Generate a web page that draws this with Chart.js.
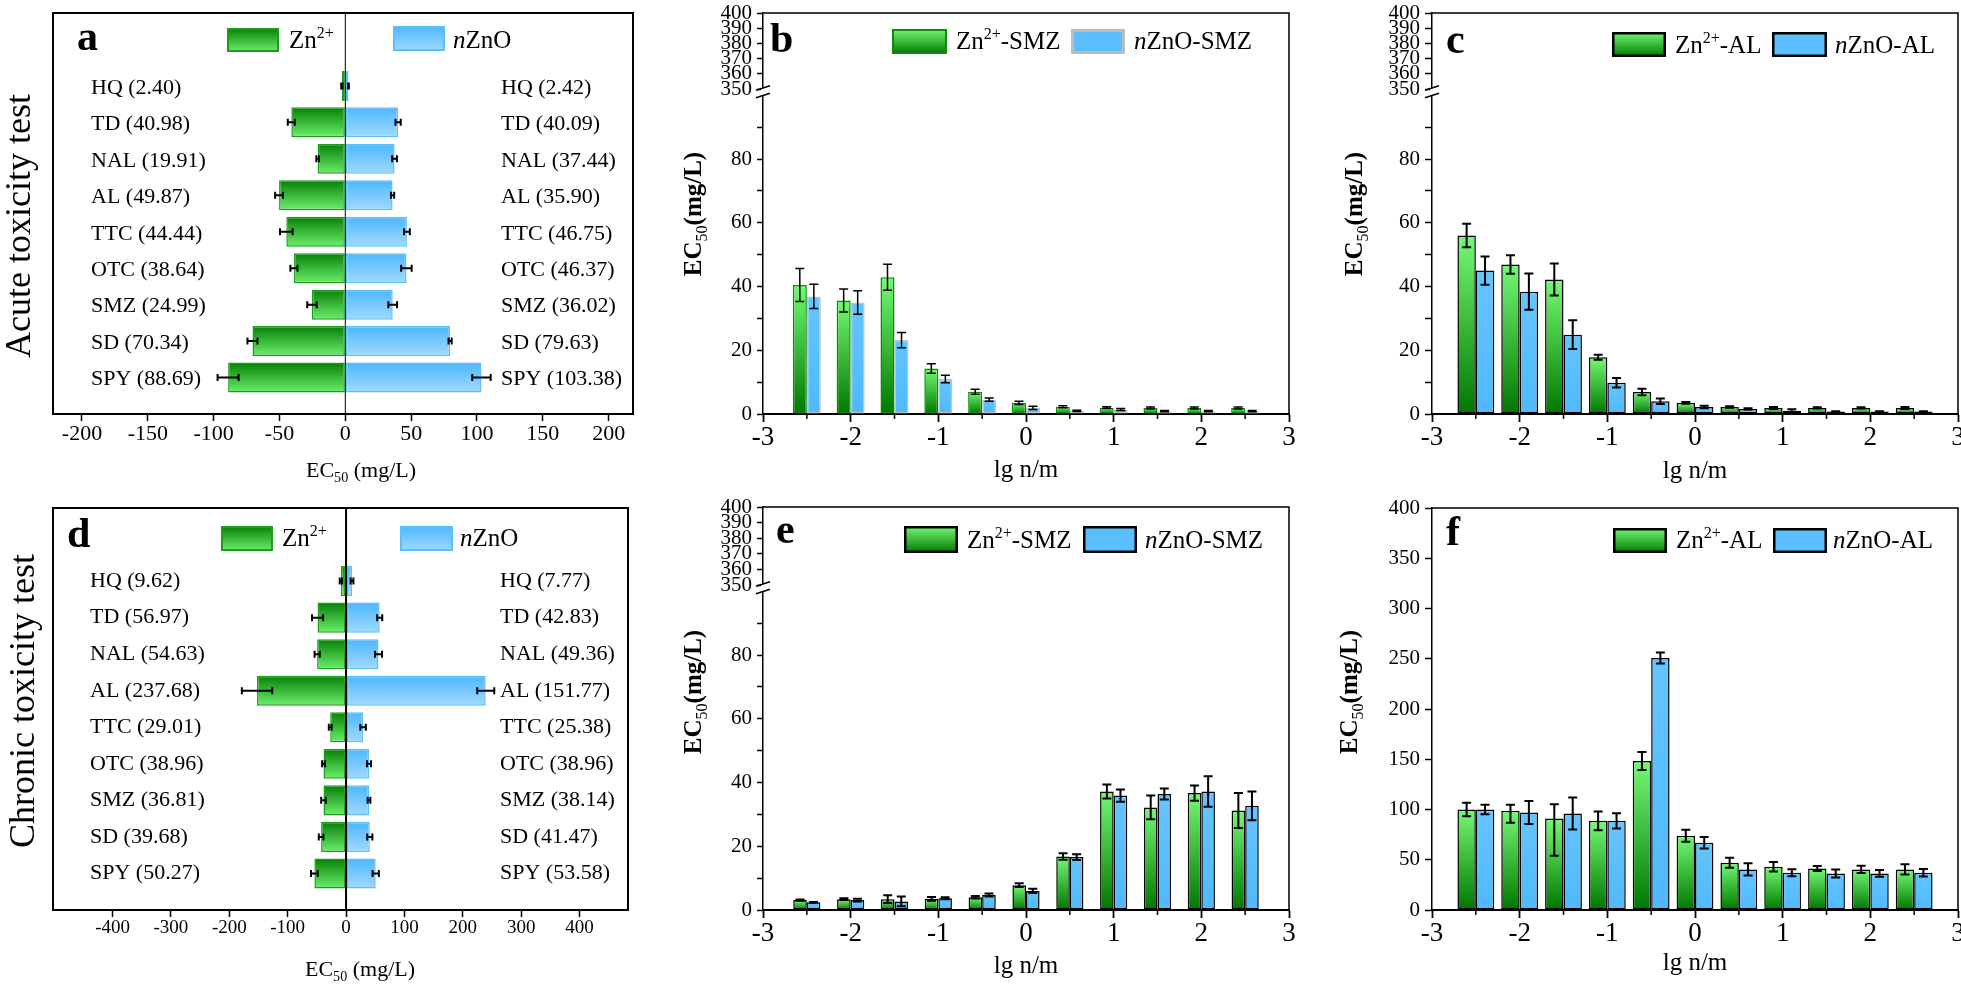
<!DOCTYPE html>
<html>
<head>
<meta charset="utf-8">
<title>EC50 of Zn2+ and nZnO with antibiotics</title>
<script src="https://cdn.jsdelivr.net/npm/chart.js@4.4.1/dist/chart.umd.min.js"></script>
<style>
html,body{margin:0;padding:0;background:#fff;}
#wrap{position:relative;width:1961px;height:987px;overflow:hidden;background:#fff;}
#wrap canvas{position:absolute;display:block;}
</style>
</head>
<body>
<div id="wrap">
  <canvas id="pa" width="650" height="490" style="left:0px;top:0px"></canvas>
  <canvas id="pb" width="650" height="490" style="left:650px;top:0px"></canvas>
  <canvas id="pc" width="661" height="490" style="left:1300px;top:0px"></canvas>
  <canvas id="pd" width="650" height="497" style="left:0px;top:490px"></canvas>
  <canvas id="pe" width="650" height="497" style="left:650px;top:490px"></canvas>
  <canvas id="pf" width="661" height="497" style="left:1300px;top:490px"></canvas>
</div>
<script>
// ---------------- DATA ----------------
const CATS = ['HQ','TD','NAL','AL','TTC','OTC','SMZ','SD','SPY'];

// panel a (acute): printed labels, bar lengths, error half-widths
const A_ZN_TXT = ['2.40','40.98','19.91','49.87','44.44','38.64','24.99','70.34','88.69'];
const A_NZ_TXT = ['2.42','40.09','37.44','35.90','46.75','46.37','36.02','79.63','103.38'];
const A_ZN = [2.6, 41.0, 21.0, 50.3, 44.8, 39.0, 25.3, 70.5, 89.0];
const A_ZN_ERR = [0.5, 2.7, 1.0, 3.0, 4.8, 2.7, 3.6, 3.8, 8.0];
const A_NZ = [2.4, 40.1, 37.4, 35.9, 46.8, 46.4, 36.0, 79.6, 103.4];
const A_NZ_ERR = [0.3, 2.0, 1.8, 1.2, 2.2, 4.0, 3.3, 1.2, 7.0];

// panel d (chronic)
const D_ZN_TXT = ['9.62','56.97','54.63','237.68','29.01','38.96','36.81','39.68','50.27'];
const D_NZ_TXT = ['7.77','42.83','49.36','151.77','25.38','38.96','38.14','41.47','53.58'];
const D_ZN = [8.8, 48.8, 49.5, 152.5, 27.1, 38.6, 38.6, 42.7, 54.2];
const D_ZN_ERR = [2.0, 9.5, 4.4, 26.0, 2.4, 2.4, 4.0, 4.0, 5.8];
const D_NZ = [10.2, 57.6, 55.6, 239.3, 29.2, 39.3, 39.3, 40.7, 50.8];
const D_NZ_ERR = [2.4, 4.4, 6.0, 14.6, 4.7, 3.4, 2.4, 4.4, 5.4];

// lg n/m positions for panels b, c, e, f
const LGNM = [-2.5, -2, -1.5, -1, -0.5, 0, 0.5, 1, 1.5, 2, 2.5];

// panel b (acute, SMZ)
const B_ZN = [40.5, 35.6, 42.9, 14.3, 7.0, 3.5, 2.3, 2.0, 1.9, 1.9, 1.9];
const B_ZN_ERR = [5.2, 3.6, 4.1, 1.5, 0.8, 0.5, 0.3, 0.3, 0.3, 0.3, 0.3];
const B_NZ = [36.9, 35.0, 23.2, 11.0, 4.5, 1.9, 1.0, 1.4, 0.9, 0.9, 0.9];
const B_NZ_ERR = [3.8, 3.7, 2.4, 1.2, 0.5, 0.5, 0.2, 0.3, 0.2, 0.2, 0.2];

// panel c (acute, AL)
const C_ZN = [56.0, 46.9, 42.2, 17.8, 6.9, 3.5, 2.2, 1.9, 1.9, 1.9, 1.9];
const C_ZN_ERR = [3.7, 2.9, 5.0, 0.8, 1.0, 0.3, 0.2, 0.3, 0.2, 0.2, 0.3];
const C_NZ = [45.0, 38.4, 24.9, 9.8, 4.0, 2.2, 1.6, 1.0, 0.8, 0.8, 0.8];
const C_NZ_ERR = [4.4, 5.7, 4.5, 1.5, 0.9, 0.4, 0.2, 0.5, 0.1, 0.1, 0.1];

// panel e (chronic, SMZ)
const E_ZN = [3.1, 3.4, 3.4, 3.5, 4.0, 7.8, 16.8, 37.2, 32.2, 36.7, 31.2];
const E_ZN_ERR = [0.2, 0.3, 1.2, 0.6, 0.4, 0.6, 1.0, 2.2, 3.7, 2.4, 5.5];
const E_NZ = [2.4, 3.1, 2.7, 3.7, 4.7, 6.0, 16.6, 35.9, 36.4, 37.2, 32.7];
const E_NZ_ERR = [0.1, 0.4, 1.5, 0.3, 0.5, 0.7, 0.9, 1.9, 1.7, 4.8, 4.5];

// panel f (chronic, AL)  ([minus, plus] where asymmetric)
const F_ZN = [100.0, 98.7, 91.1, 88.7, 148.3, 73.8, 47.0, 43.0, 41.4, 40.4, 40.4];
const F_ZN_ERR = [6.6, [12, 6], [37, 14], 9.3, 9.0, 6.0, 5.0, 4.8, 2.5, 3.6, 5.0];
const F_NZ = [100.0, 97.0, 96.0, 88.7, 250.7, 66.9, 40.4, 37.1, 36.4, 36.4, 37.1];
const F_NZ_ERR = [4.8, 11.5, 16.0, 7.5, 5.5, 5.8, 6.0, 3.5, 4.0, 3.3, 3.8];

// tick values
const A_XTICKS = [-200, -150, -100, -50, 0, 50, 100, 150, 200];
const D_XTICKS = [-400, -300, -200, -100, 0, 100, 200, 300, 400];
const LG_XTICKS = [-3, -2, -1, 0, 1, 2, 3];
const LG_XMINOR = [-2.5, -1.5, -0.5, 0.5, 1.5, 2.5];
const LOW_YTICKS = [0, 10, 20, 30, 40, 50, 60, 70, 80, 90];
const UP_YTICKS = [350, 360, 370, 380, 390, 400];
const F_YTICKS = [0, 50, 100, 150, 200, 250, 300, 350, 400];

// texts
const X_TITLE = 'lg n/m';
const EC_X = [['EC',''],['50','SUB'],[' (mg/L)','']];
const EC_Y = [['EC','B'],['50','SUB'],['(mg/L)','B']];
const LEG_ZN = [['Zn',''],['2+','SUP']];
const LEG_NZ = [['n','I'],['ZnO','']];

// ---------------- STYLE HELPERS ----------------
const FAM = '"Liberation Serif", "Times New Roman", Times, serif';
Chart.defaults.font.family = FAM;
Chart.defaults.color = '#000';

const GH_TOP = '#067f06', GH_BOT = '#6cf06c';   // horizontal green bars: dark top
const BH_TOP = '#4cb7fe', BH_BOT = '#a2dafe';   // horizontal blue bars
const GV_TOP = '#74fa74', GV_BOT = '#007700';   // vertical green bars: light top
const BV_TOP = '#64c5ff', BV_BOT = '#50b9fc';   // vertical blue bars

function drawRich(ctx, parts, x, y, size, align, rot) {
  ctx.save();
  ctx.translate(x, y);
  if (rot) ctx.rotate(rot);
  ctx.textBaseline = 'alphabetic';
  ctx.textAlign = 'left';
  ctx.fillStyle = '#000';
  const segs = parts.map(([t, f]) => {
    const fl = (f || '').split(' ');
    const small = fl.includes('SUB') || fl.includes('SUP');
    const sz = small ? size * 0.64 : size;
    const font = (fl.includes('I') ? 'italic ' : '') + (fl.includes('B') ? 'bold ' : '') + sz.toFixed(1) + 'px ' + FAM;
    ctx.font = font;
    const w = ctx.measureText(t).width;
    const dy = fl.includes('SUB') ? size * 0.22 : (fl.includes('SUP') ? -size * 0.40 : 0);
    return {t, font, w, dy};
  });
  const total = segs.reduce((a, s) => a + s.w, 0);
  let cx = align === 'center' ? -total / 2 : (align === 'right' ? -total : 0);
  for (const s of segs) { ctx.font = s.font; ctx.fillText(s.t, cx, s.dy); cx += s.w; }
  ctx.restore();
}

function hBarGrad(c0, c1, half) {
  return (c) => {
    const ch = c.chart;
    if (c.type !== 'data' || !ch.chartArea || !c.parsed) return c0;
    const yc = ch.scales.y.getPixelForValue(c.parsed.y);
    const g = ch.ctx.createLinearGradient(0, yc - half, 0, yc + half);
    g.addColorStop(0, c0); g.addColorStop(1, c1);
    return g;
  };
}
function vBarGrad(c0, c1) {
  return (c) => {
    const ch = c.chart;
    if (c.type !== 'data' || !ch.chartArea || !c.parsed) return c0;
    const ys = ch.scales[c.dataset.yAxisID || 'y'];
    const top = ys.getPixelForValue(c.parsed.y), base = ys.getPixelForValue(0);
    const g = ch.ctx.createLinearGradient(0, Math.min(top, base - 1), 0, base);
    g.addColorStop(0, c0); g.addColorStop(1, c1);
    return g;
  };
}

// ---------------- PLUGIN (error bars, frames, legends, texts) ----------------
const decor = {
  id: 'decor',
  afterDatasetsDraw(chart, args, o) {
    const ctx = chart.ctx, ca = chart.chartArea;
    ctx.save();
    if (o.zeroLine) {
      const px = chart.scales.x.getPixelForValue(0);
      ctx.strokeStyle = '#000'; ctx.lineWidth = o.zeroLine;
      ctx.beginPath(); ctx.moveTo(px, ca.top); ctx.lineTo(px, ca.bottom); ctx.stroke();
    }
    const cap = o.cap || 8;
    (o.errors || []).forEach((errs, di) => {
      if (!errs) return;
      const meta = chart.getDatasetMeta(di);
      const ds = chart.data.datasets[di];
      ctx.strokeStyle = '#000'; ctx.lineWidth = o.errLW || 1.5;
      meta.data.forEach((el, j) => {
        const e = errs[j];
        const lo = Array.isArray(e) ? e[0] : e, hi = Array.isArray(e) ? e[1] : e;
        ctx.beginPath();
        if (o.horizontal) {
          const xs = chart.scales[meta.xAxisID];
          const v = ds.data[j].x;
          const p1 = xs.getPixelForValue(v - lo), p2 = xs.getPixelForValue(v + hi), y = el.y;
          ctx.moveTo(p1, y); ctx.lineTo(p2, y);
          ctx.moveTo(p1, y - cap / 2); ctx.lineTo(p1, y + cap / 2);
          ctx.moveTo(p2, y - cap / 2); ctx.lineTo(p2, y + cap / 2);
        } else {
          const ys = chart.scales[meta.yAxisID];
          const v = ds.data[j].y;
          const p1 = ys.getPixelForValue(v - lo), p2 = ys.getPixelForValue(v + hi), x = el.x;
          ctx.moveTo(x, p1); ctx.lineTo(x, p2);
          ctx.moveTo(x - cap / 2, p1); ctx.lineTo(x + cap / 2, p1);
          ctx.moveTo(x - cap / 2, p2); ctx.lineTo(x + cap / 2, p2);
        }
        ctx.stroke();
      });
    });
    ctx.restore();
  },
  afterDraw(chart, args, o) {
    const ctx = chart.ctx, ca = chart.chartArea;
    ctx.save();
    ctx.strokeStyle = '#000';
    if (o.box) {
      ctx.lineWidth = o.box;
      ctx.strokeRect(ca.left, ca.top, ca.right - ca.left, ca.bottom - ca.top);
    }
    if (o.frame) {
      ctx.lineWidth = o.frame;
      ctx.beginPath(); ctx.moveTo(ca.left, ca.top); ctx.lineTo(ca.right, ca.top); ctx.lineTo(ca.right, ca.bottom); ctx.stroke();
    }
    if (o.minorX) {
      const xs = chart.scales.x;
      ctx.lineWidth = 1.5; ctx.beginPath();
      o.minorX.forEach(v => { const px = xs.getPixelForValue(v); ctx.moveTo(px, ca.bottom); ctx.lineTo(px, ca.bottom + 5); });
      ctx.stroke();
    }
    if (o.brk && chart.scales.y2) {
      const yb = chart.scales.y2.bottom, x0 = ca.left;
      ctx.fillStyle = '#fff'; ctx.fillRect(x0 - 2, yb - 1, 4, 7.5);
      ctx.strokeStyle = '#000'; ctx.lineWidth = 1.5; ctx.beginPath();
      [-1, 6.5].forEach(d => { ctx.moveTo(x0 - 7, yb + d + 2.2); ctx.lineTo(x0 + 7, yb + d - 2.2); });
      ctx.stroke();
    }
    (o.legend || []).forEach(b => {
      let fill = b.fill;
      if (Array.isArray(b.fill)) {
        fill = ctx.createLinearGradient(0, b.y, 0, b.y + b.h);
        fill.addColorStop(0, b.fill[0]); fill.addColorStop(1, b.fill[1]);
      }
      ctx.fillStyle = fill; ctx.fillRect(b.x, b.y, b.w, b.h);
      ctx.lineWidth = b.lw; ctx.strokeStyle = b.stroke;
      ctx.strokeRect(b.x + b.lw / 2, b.y + b.lw / 2, b.w - b.lw, b.h - b.lw);
    });
    if (o.catLabels) {
      const L = o.catLabels, ys = chart.scales.y;
      ctx.font = L.size + 'px ' + FAM; ctx.fillStyle = '#000';
      ctx.textBaseline = 'middle'; ctx.textAlign = 'left';
      L.left.forEach((t, i) => ctx.fillText(t, L.lx, ys.getPixelForValue(i) + L.dy));
      L.right.forEach((t, i) => ctx.fillText(t, L.rx, ys.getPixelForValue(i) + L.dy));
    }
    (o.texts || []).forEach(t => drawRich(ctx, t.parts, t.x, t.y, t.size, t.align, t.rot));
    ctx.restore();
  }
};

// ---------------- PANEL BUILDERS ----------------
function hPanel(id, P) {
  return new Chart(document.getElementById(id), {
    type: 'bar',
    data: {
      datasets: [
        { label: 'Zn2+', data: P.zn.map((v, i) => ({x: -v, y: i})),
          backgroundColor: hBarGrad(GH_TOP, GH_BOT, 15), borderColor: '#1c9e1c', borderWidth: 1.5,
          borderSkipped: false, categoryPercentage: 0.823, barPercentage: 1 },
        { label: 'nZnO', data: P.nz.map((v, i) => ({x: v, y: i})),
          backgroundColor: hBarGrad(BH_TOP, BH_BOT, 15), borderColor: '#5abffd', borderWidth: 1.5,
          borderSkipped: false, categoryPercentage: 0.823, barPercentage: 1 }
      ]
    },
    options: {
      responsive: false, animation: false, events: [], indexAxis: 'y',
      layout: { padding: { left: P.L, right: P.R, top: P.T, bottom: 0 } },
      scales: {
        x: { type: 'linear', stacked: true, min: P.xmin, max: P.xmax, offset: false,
             afterBuildTicks: s => { s.ticks = P.xticks.map(v => ({value: v})); },
             ticks: { autoSkip: false, maxRotation: 0, minRotation: 0, padding: 0, color: '#000',
                      font: { family: FAM, size: P.tickSize }, callback: v => String(v) },
             grid: { drawOnChartArea: false, offset: false, tickLength: 7, tickColor: '#000', tickWidth: 1.5 },
             border: { display: true, color: '#000', width: 2 },
             afterFit: s => { s.height = P.xh; s.paddingLeft = 0; s.paddingRight = 0; } },
        y: { type: 'linear', stacked: true, min: -2, max: 9, reverse: true, display: false, offset: false,
             grid: { offset: false } }
      },
      plugins: {
        legend: { display: false }, tooltip: { enabled: false },
        decor: {
          horizontal: true, zeroLine: P.zeroLW, box: 2, cap: 7, errLW: 2,
          errors: [P.znErr, P.nzErr],
          catLabels: { left: CATS.map((c, i) => c + ' (' + P.znTxt[i] + ')'),
                       right: CATS.map((c, i) => c + ' (' + P.nzTxt[i] + ')'),
                       lx: P.lx, rx: P.rx, dy: P.ldy, size: 22 },
          legend: P.legend, texts: P.texts
        }
      }
    },
    plugins: [decor]
  });
}

function lgPanel(id, P) {
  const yTick = (ticks, cb, size) => ({
    autoSkip: false, padding: P.yPad, color: '#000', font: { family: FAM, size: size }, callback: cb
  });
  const yGrid = { drawOnChartArea: false, offset: false, tickLength: P.yTL, tickColor: '#000', tickWidth: 1.5 };
  const yFit = s => { s.width = P.yw; s.paddingTop = 0; s.paddingBottom = 0; };
  const scales = {
    x: { type: 'linear', min: -3, max: 3, offset: false,
         afterBuildTicks: s => { s.ticks = LG_XTICKS.map(v => ({value: v})); },
         ticks: { autoSkip: false, maxRotation: 0, minRotation: 0, padding: 0, color: '#000',
                  font: { family: FAM, size: 27 }, callback: v => String(v) },
         grid: { drawOnChartArea: false, offset: false, tickLength: 8, tickColor: '#000', tickWidth: 1.8 },
         border: { display: true, color: '#000', width: 2 },
         title: { display: true, text: X_TITLE, color: '#000', font: { family: FAM, size: 25 },
                  padding: { top: 0, bottom: P.titlePb } },
         afterFit: s => { s.height = P.xh; s.paddingLeft = 0; s.paddingRight = 0; } }
  };
  if (P.broken) {
    scales.y = { type: 'linear', position: 'left', min: 0, max: 102, stack: 'v', stackWeight: P.lowW, offset: false,
                 afterBuildTicks: s => { s.ticks = LOW_YTICKS.map(v => ({value: v})); },
                 ticks: yTick(LOW_YTICKS, v => (v % 20 === 0 ? String(v) : ''), 21),
                 grid: yGrid, border: { display: true, color: '#000', width: 1.5 }, afterFit: yFit };
    scales.y2 = { type: 'linear', position: 'left', min: 350, max: 400, stack: 'v', stackWeight: P.upW, offset: false,
                  afterBuildTicks: s => { s.ticks = UP_YTICKS.map(v => ({value: v})); },
                  ticks: yTick(UP_YTICKS, v => String(v), 21),
                  grid: yGrid, border: { display: true, color: '#000', width: 1.5 }, afterFit: yFit };
  } else {
    scales.y = { type: 'linear', position: 'left', min: 0, max: 400, offset: false,
                 afterBuildTicks: s => { s.ticks = F_YTICKS.map(v => ({value: v})); },
                 ticks: yTick(F_YTICKS, v => String(v), 21),
                 grid: yGrid, border: { display: true, color: '#000', width: 1.5 }, afterFit: yFit };
  }
  return new Chart(document.getElementById(id), {
    type: 'bar',
    data: {
      datasets: [
        { label: P.names[0], data: LGNM.map((x, i) => ({x: x, y: P.zn[i]})), yAxisID: 'y',
          backgroundColor: vBarGrad(GV_TOP, GV_BOT), borderColor: P.gBorder, borderWidth: P.bw,
          borderSkipped: false, categoryPercentage: P.cat, barPercentage: 1 },
        { label: P.names[1], data: LGNM.map((x, i) => ({x: x, y: P.nz[i]})), yAxisID: 'y',
          backgroundColor: vBarGrad(BV_TOP, BV_BOT), borderColor: P.bBorder, borderWidth: P.bw,
          borderSkipped: false, categoryPercentage: P.cat, barPercentage: 1 }
      ]
    },
    options: {
      responsive: false, animation: false, events: [],
      layout: { padding: { left: 0, right: P.R, top: P.T, bottom: 0 } },
      scales: scales,
      plugins: {
        legend: { display: false }, tooltip: { enabled: false },
        decor: {
          frame: 1.5, brk: P.broken, minorX: LG_XMINOR, cap: 9, errLW: P.errLW,
          errors: [P.znErr, P.nzErr], legend: P.legend, texts: P.texts
        }
      }
    },
    plugins: [decor]
  });
}

// ---------------- BUILD ----------------
const ROT = -Math.PI / 2;

hPanel('pa', {
  zn: A_ZN, nz: A_NZ, znErr: A_ZN_ERR, nzErr: A_NZ_ERR, znTxt: A_ZN_TXT, nzTxt: A_NZ_TXT,
  L: 53, R: 17, T: 13, xh: 76, xmin: -222, xmax: 218.5, xticks: A_XTICKS, tickSize: 22, zeroLW: 1,
  lx: 91, rx: 501, ldy: 2,
  legend: [
    { x: 227, y: 28, w: 52, h: 24, fill: [GH_TOP, GH_BOT], stroke: '#1c9e1c', lw: 2 },
    { x: 393, y: 26, w: 52, h: 25, fill: [BH_TOP, BH_BOT], stroke: '#5abffd', lw: 2 }
  ],
  texts: [
    { parts: [['a','B']], x: 77, y: 50, size: 42 },
    { parts: LEG_ZN, x: 289, y: 48, size: 25 },
    { parts: LEG_NZ, x: 453, y: 48, size: 25 },
    { parts: EC_X, x: 306, y: 477, size: 22 },
    { parts: [['Acute toxicity test','']], x: 30, y: 226, size: 36, align: 'center', rot: ROT }
  ]
});

hPanel('pd', {
  zn: D_ZN, nz: D_NZ, znErr: D_ZN_ERR, nzErr: D_NZ_ERR, znTxt: D_ZN_TXT, nzTxt: D_NZ_TXT,
  L: 53, R: 22, T: 18, xh: 77, xmin: -502, xmax: 483, xticks: D_XTICKS, tickSize: 19, zeroLW: 2,
  lx: 90, rx: 500, ldy: 0,
  legend: [
    { x: 221, y: 36, w: 52, h: 25, fill: [GH_TOP, GH_BOT], stroke: '#1c9e1c', lw: 2 },
    { x: 400, y: 36, w: 53, h: 25, fill: [BH_TOP, BH_BOT], stroke: '#5abffd', lw: 2 }
  ],
  texts: [
    { parts: [['d','B']], x: 67, y: 57, size: 42 },
    { parts: LEG_ZN, x: 282, y: 56, size: 25 },
    { parts: LEG_NZ, x: 460, y: 56, size: 25 },
    { parts: EC_X, x: 305, y: 486, size: 22 },
    { parts: [['Chronic toxicity test','']], x: 34, y: 211, size: 36, align: 'center', rot: ROT }
  ]
});

lgPanel('pb', {
  broken: true, yw: 113, lowW: 325, upW: 76, R: 11, T: 13, xh: 76, titlePb: 4.4, yPad: 5, yTL: 6,
  zn: B_ZN, nz: B_NZ, znErr: B_ZN_ERR, nzErr: B_NZ_ERR, names: ['Zn2+-SMZ', 'nZnO-SMZ'],
  gBorder: '#0b8a0b', bBorder: '#c2c2c2', bw: 1.5, cat: 0.64, errLW: 1.5,
  legend: [
    { x: 242, y: 29, w: 55, h: 25, fill: [GV_TOP, GV_BOT], stroke: '#0b8a0b', lw: 2 },
    { x: 421, y: 29, w: 54, h: 25, fill: '#5bbfff', stroke: '#bdbdbd', lw: 3 }
  ],
  texts: [
    { parts: [['b','B']], x: 120, y: 52, size: 42 },
    { parts: [['Zn',''],['2+','SUP'],['-SMZ','']], x: 306, y: 49, size: 25 },
    { parts: [['n','I'],['ZnO-SMZ','']], x: 484, y: 49, size: 25 },
    { parts: EC_Y, x: 51, y: 214, size: 25, align: 'center', rot: ROT }
  ]
});

lgPanel('pc', {
  broken: true, yw: 132, lowW: 325, upW: 76, R: 3, T: 13, xh: 76, titlePb: 4, yPad: 5, yTL: 7,
  zn: C_ZN, nz: C_NZ, znErr: C_ZN_ERR, nzErr: C_NZ_ERR, names: ['Zn2+-AL', 'nZnO-AL'],
  gBorder: '#000', bBorder: '#000', bw: 1.5, cat: 0.84, errLW: 2,
  legend: [
    { x: 312, y: 32, w: 54, h: 25, fill: [GV_TOP, GV_BOT], stroke: '#000', lw: 2.5 },
    { x: 472, y: 32, w: 55, h: 25, fill: '#5bbfff', stroke: '#000', lw: 2.5 }
  ],
  texts: [
    { parts: [['c','B']], x: 146, y: 53, size: 42 },
    { parts: [['Zn',''],['2+','SUP'],['-AL','']], x: 375, y: 53, size: 25 },
    { parts: [['n','I'],['ZnO-AL','']], x: 535, y: 53, size: 25 },
    { parts: EC_Y, x: 62, y: 214, size: 25, align: 'center', rot: ROT }
  ]
});

lgPanel('pe', {
  broken: true, yw: 113, lowW: 325, upW: 78, R: 11, T: 17, xh: 77, titlePb: 5.4, yPad: 5, yTL: 6,
  zn: E_ZN, nz: E_NZ, znErr: E_ZN_ERR, nzErr: E_NZ_ERR, names: ['Zn2+-SMZ', 'nZnO-SMZ'],
  gBorder: '#000', bBorder: '#000', bw: 1.5, cat: 0.62, errLW: 2,
  legend: [
    { x: 254, y: 36, w: 54, h: 27, fill: [GV_TOP, GV_BOT], stroke: '#000', lw: 2.5 },
    { x: 433, y: 36, w: 54, h: 27, fill: '#5bbfff', stroke: '#000', lw: 2.5 }
  ],
  texts: [
    { parts: [['e','B']], x: 126, y: 53, size: 42 },
    { parts: [['Zn',''],['2+','SUP'],['-SMZ','']], x: 317, y: 58, size: 25 },
    { parts: [['n','I'],['ZnO-SMZ','']], x: 495, y: 58, size: 25 },
    { parts: EC_Y, x: 51, y: 202, size: 25, align: 'center', rot: ROT }
  ]
});

lgPanel('pf', {
  broken: false, yw: 132, R: 3, T: 18, xh: 77, titlePb: 9, yPad: 5, yTL: 7,
  zn: F_ZN, nz: F_NZ, znErr: F_ZN_ERR, nzErr: F_NZ_ERR, names: ['Zn2+-AL', 'nZnO-AL'],
  gBorder: '#000', bBorder: '#000', bw: 1.5, cat: 0.84, errLW: 2,
  legend: [
    { x: 313, y: 38, w: 54, h: 25, fill: [GV_TOP, GV_BOT], stroke: '#000', lw: 2.5 },
    { x: 473, y: 38, w: 54, h: 25, fill: '#5bbfff', stroke: '#000', lw: 2.5 }
  ],
  texts: [
    { parts: [['f','B']], x: 146, y: 55, size: 42 },
    { parts: [['Zn',''],['2+','SUP'],['-AL','']], x: 376, y: 58, size: 25 },
    { parts: [['n','I'],['ZnO-AL','']], x: 533, y: 58, size: 25 },
    { parts: EC_Y, x: 57, y: 202, size: 25, align: 'center', rot: ROT }
  ]
});
</script>
</body>
</html>
